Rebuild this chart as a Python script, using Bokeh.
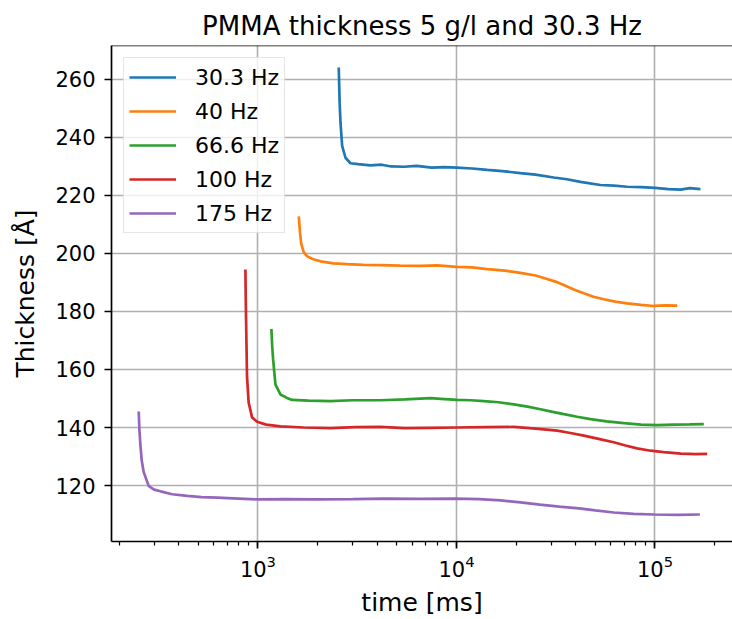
from bokeh.plotting import figure
from bokeh.models import Range1d, FixedTicker, Span
from bokeh.embed import file_html
from bokeh.resources import INLINE

title_text = "PMMA thickness 5 g/l and 30.3 Hz"
x_label = "time [ms]"
y_label = "Thickness [Å]"
y_ticks = [120, 140, 160, 180, 200, 220, 240, 260]

labels = ["30.3 Hz", "40 Hz", "66.6 Hz", "100 Hz", "175 Hz"]
colors = ["#1f77b4", "#ff7f0e", "#2ca02c", "#d62728", "#9467bd"]

t_303 = [2553, 2580, 2606, 2656, 2761, 2925, 3200, 3689, 4200, 4700, 5432, 6300, 7500, 8700,
         10000, 12000, 14280, 17000, 21000, 25000, 30900, 36000, 42100, 53100, 62000, 72400,
         85000, 100000, 117000, 134500, 150000, 169400]
v_303 = [264.1, 252.0, 245.0, 237.1, 233.0, 231.1, 230.8, 230.4, 230.6, 230.0, 229.9, 230.2,
         229.6, 229.8, 229.6, 229.3, 228.8, 228.4, 227.7, 227.2, 226.2, 225.6, 224.7, 223.6,
         223.4, 223.0, 222.9, 222.6, 222.2, 222.0, 222.5, 222.2]

t_40 = [1607, 1630, 1652, 1700, 1771, 1900, 2066, 2400, 2813, 3400, 4140, 5200, 6590, 8000,
        10000, 12000, 14280, 17500, 21000, 25000, 28600, 31500, 34700, 39000, 43800, 49000,
        55200, 63000, 72400, 85000, 98600, 114000, 129400]
v_40 = [212.8, 207.0, 203.4, 200.5, 199.0, 198.0, 197.3, 196.6, 196.3, 196.1, 196.0, 195.8,
        195.7, 195.9, 195.4, 195.2, 194.6, 194.1, 193.3, 192.4, 191.2, 190.3, 189.1, 187.6,
        186.3, 185.1, 184.2, 183.4, 182.8, 182.3, 181.9, 182.1, 182.0]

t_666 = [1169, 1180, 1193, 1225, 1298, 1400, 1486, 1800, 2317, 3000, 4140, 5500, 7400, 8700,
         10080, 11800, 13730, 16300, 19450, 22800, 26500, 30500, 34750, 40500, 47300, 57000,
         69700, 85000, 102500, 125000, 150000, 176200]
v_666 = [174.0, 168.0, 163.4, 154.9, 151.4, 150.2, 149.5, 149.3, 149.1, 149.4, 149.4, 149.7,
         150.1, 149.8, 149.5, 149.4, 149.1, 148.7, 148.0, 147.2, 146.3, 145.4, 144.6, 143.7,
         142.9, 142.1, 141.5, 141.0, 140.8, 141.0, 141.1, 141.2]

t_100 = [865, 868, 871, 881, 898, 934, 990, 1100, 1298, 1700, 2317, 3100, 4140, 5500, 7400,
         10080, 14000, 19450, 25000, 32100, 37500, 43800, 52000, 61900, 71000, 81200, 95000,
         110600, 135000, 160000, 183200]
v_100 = [194.5, 185.0, 178.3, 157.7, 148.6, 143.5, 142.0, 141.0, 140.4, 140.0, 139.8, 140.1,
         140.2, 139.8, 139.9, 140.0, 140.1, 140.2, 139.6, 138.9, 138.1, 137.2, 136.1, 134.9,
         133.8, 132.8, 132.0, 131.5, 131.0, 130.8, 130.9]

t_175 = [251, 253, 256, 260, 266, 282, 300, 323, 370, 440, 520, 623, 800, 998, 1400, 1987,
         3000, 4300, 6500, 10000, 13000, 16700, 21000, 26300, 33000, 41400, 50000, 62100,
         78000, 99100, 130000, 168300]
v_175 = [145.5, 139.0, 133.7, 128.5, 124.6, 119.8, 118.6, 118.0, 117.0, 116.4, 116.0, 115.8,
         115.5, 115.2, 115.3, 115.2, 115.3, 115.5, 115.4, 115.5, 115.3, 114.9, 114.2, 113.4,
         112.7, 112.1, 111.4, 110.7, 110.2, 110.0, 109.9, 110.0]

series_t = [t_303, t_40, t_666, t_100, t_175]
series_v = [v_303, v_40, v_666, v_100, v_175]

FONT = "DejaVu Sans"
Y0, Y1 = 100.7, 271.7

p = figure(width=732, height=619, x_axis_type="log",
           x_range=Range1d(183, 245700), y_range=Range1d(Y0, Y1),
           output_backend="svg", toolbar_location=None,
           min_border_left=111, min_border_right=0, min_border_top=45, min_border_bottom=76)

p.title.text = title_text
p.title.align = "center"
p.title.text_font = FONT
p.title.text_font_size = "26px"
p.title.text_font_style = "normal"
p.title.text_color = "black"

for t, v, c, lab in zip(series_t, series_v, colors, labels):
    p.line(t, v, line_color=c, line_width=2.7, legend_label=lab)

p.outline_line_color = None
p.background_fill_color = "white"
p.border_fill_color = "white"

# top spine
p.add_layout(Span(location=Y1, dimension="width", line_color="black", line_width=1.7))

# grid
for g in (p.xgrid, p.ygrid):
    g.grid_line_color = "#b0b0b0"
    g.grid_line_width = 1.6

# axes
xa = p.xaxis[0]
ya = p.yaxis[0]
ya.ticker = FixedTicker(ticks=y_ticks)
ya.minor_tick_line_color = None
for ax in (xa, ya):
    ax.axis_line_color = "black"
    ax.axis_line_width = 1.7
    ax.major_tick_line_color = "black"
    ax.major_tick_line_width = 1.7
    ax.major_tick_out = 7
    ax.major_tick_in = 0
    ax.minor_tick_line_width = 1.2
    ax.minor_tick_out = 4
    ax.minor_tick_in = 0
    ax.major_label_text_font = FONT
    ax.major_label_text_font_size = "21px"
    ax.major_label_text_color = "black"
    ax.axis_label_text_font = FONT
    ax.axis_label_text_font_size = "25px"
    ax.axis_label_text_font_style = "normal"
    ax.axis_label_text_color = "black"
xa.minor_tick_line_color = "black"
xa.axis_label = x_label
ya.axis_label = y_label
ya.major_label_standoff = 9
ya.axis_label_standoff = 12
xa.major_label_standoff = 6
xa.axis_label_standoff = 8

lg = p.legend[0]
lg.location = "top_left"
lg.margin = 12
lg.padding = 5
lg.spacing = 6
lg.glyph_height = 28
lg.glyph_width = 47
lg.label_standoff = 19
lg.label_text_font = FONT
lg.label_text_font_size = "22px"
lg.label_text_color = "black"
lg.border_line_color = "#cccccc"
lg.border_line_width = 1.2
lg.background_fill_alpha = 0.8

open("out.html", "w").write(file_html(p, INLINE))
